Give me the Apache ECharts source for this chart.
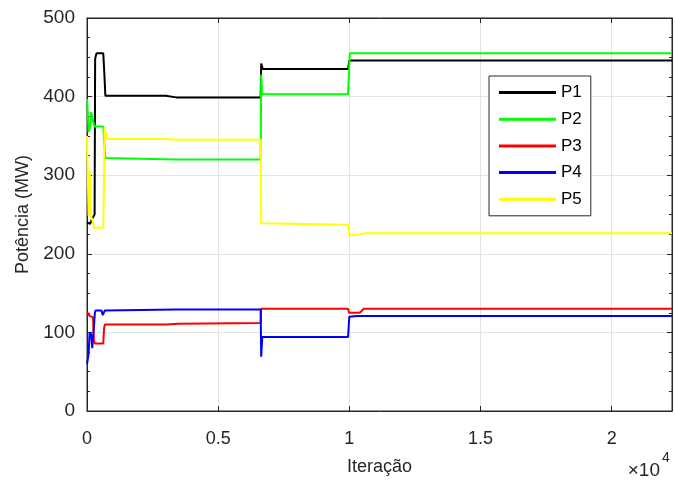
<!DOCTYPE html>
<html>
<head>
<meta charset="utf-8">
<script src="https://cdn.jsdelivr.net/npm/echarts@6/dist/echarts.min.js"></script>
<style>html,body{margin:0;padding:0;background:#fff}#c{width:675px;height:486px}</style>
</head>
<body>
<div id="c"></div>
<script>
// ---- data (iteration, MW) ----
var seriesNames = ['P1', 'P2', 'P3', 'P4', 'P5'];
var p1 = [[0,240],[120,238],[200,245],[290,250],[310,448],[360,455],[620,455],[660,430],[700,401],[3000,401],[3400,399],[6620,399],[6640,442],[6700,435],[9950,435],[10000,446],[22300,446]];
var p2 = [[0,397],[30,380],[60,355],[120,360],[160,380],[230,378],[280,362],[620,362],[660,340],[700,322],[3400,320],[6620,320],[6640,428],[6680,403],[9950,403],[10020,455],[22300,455]];
var p3 = [[0,126],[100,121],[230,119],[260,90],[300,86],[620,86],[650,105],[680,110],[3000,110],[3500,111],[6620,112],[6640,130],[9950,130],[9990,125],[10400,125],[10550,130],[22300,130]];
var p4 = [[0,60],[60,72],[100,100],[160,97],[200,80],[260,105],[300,125],[330,128],[550,128],[600,122],[640,122],[680,128],[3400,129],[6620,129],[6640,69],[6680,94],[9950,94],[10000,120],[10300,121],[22300,121]];
var p5 = [[0,350],[30,300],[60,248],[90,260],[110,305],[140,250],[180,245],[230,240],[270,233],[620,233],[650,300],[670,361],[720,361],[760,346],[3000,346],[3400,345],[6620,345],[6640,239],[6700,237],[9950,237],[10000,224],[10300,224],[10550,226],[22300,226]];
var seriesData = [p1, p2, p3, p4, p5];
var seriesColors = ['#000000', '#00ff00', '#ff0000', '#0000ff', '#ffff00'];
var xTickLabels = ['0', '0.5', '1', '1.5', '2'];
var xMin = 0, xMax = 22300, xStep = 5000;
var yMin = 0, yMax = 500, yStep = 100;

var FONT = '"Liberation Sans", Arial, Helvetica, sans-serif';
var TXT = '#262626';
var chart = echarts.init(document.getElementById('c'), null, {renderer: 'canvas'});

var axisCommon = {
  axisLine: {show: true, onZero: false, lineStyle: {color: TXT, width: 1}},
  axisTick: {show: true, inside: true, length: 5, lineStyle: {color: TXT}},
};

chart.setOption({
  animation: false,
  backgroundColor: '#fff',
  textStyle: {fontFamily: FONT},
  grid: {left: 87, top: 18, right: 3, bottom: 75, show: true, borderColor: TXT, borderWidth: 1, backgroundColor: 'transparent'},
  legend: {
    data: seriesNames,
    orient: 'vertical',
    left: 489, top: 76,
    padding: [8, 9, 8, 10],
    itemWidth: 57, itemHeight: 3, itemGap: 9.7,
    icon: 'rect',
    backgroundColor: '#fff',
    borderColor: TXT, borderWidth: 1,
    textStyle: {fontSize: 17, color: '#000', fontFamily: FONT, lineHeight: 17}
  },
  xAxis: [{
    type: 'value', min: xMin, max: xMax, interval: xStep,
    name: 'Iteração', nameLocation: 'middle', nameGap: 47,
    nameTextStyle: {fontSize: 18, color: TXT, fontFamily: FONT},
    axisLine: axisCommon.axisLine, axisTick: axisCommon.axisTick,
    axisLabel: {fontSize: 18, color: TXT, margin: 19, showMaxLabel: false, fontFamily: FONT,
      formatter: function (v) { var i = Math.round(v / xStep); return xTickLabels[i] !== undefined && v % xStep === 0 ? xTickLabels[i] : ''; }},
    splitLine: {show: true, lineStyle: {color: '#e3e3e3', width: 1}}
  }, {
    type: 'value', position: 'top', min: xMin, max: xMax, interval: xStep,
    axisLine: axisCommon.axisLine, axisTick: axisCommon.axisTick,
    axisLabel: {show: false}, splitLine: {show: false}
  }],
  yAxis: [{
    type: 'value', min: yMin, max: yMax, interval: yStep,
    name: 'Potência (MW)', nameLocation: 'middle', nameGap: 49, nameRotate: 90,
    nameTextStyle: {fontSize: 18, color: TXT, fontFamily: FONT},
    axisLine: axisCommon.axisLine, axisTick: axisCommon.axisTick,
    minorTick: {show: true, splitNumber: 4, length: 3, lineStyle: {color: TXT}},
    axisLabel: {fontSize: 19, color: TXT, margin: 12, fontFamily: FONT},
    splitLine: {show: true, lineStyle: {color: '#e3e3e3', width: 1}}
  }, {
    type: 'value', position: 'right', min: yMin, max: yMax, interval: yStep,
    axisLine: axisCommon.axisLine, axisTick: axisCommon.axisTick,
    minorTick: {show: true, splitNumber: 4, length: 3, lineStyle: {color: TXT}},
    axisLabel: {show: false}, splitLine: {show: false}
  }],
  graphic: [
    {type: 'text', right: 15, top: 461, style: {text: '×10', font: '19px ' + FONT, fill: TXT}},
    {type: 'text', left: 662, top: 451, style: {text: '4', font: '14px ' + FONT, fill: TXT}}
  ],
  series: seriesNames.map(function (n, i) {
    return {
      name: n, type: 'line', data: seriesData[i], showSymbol: false,
      xAxisIndex: 0, yAxisIndex: 0,
      lineStyle: {color: seriesColors[i], width: 2}, itemStyle: {color: seriesColors[i]},
      z: 2 + i
    };
  })
});
</script>
</body>
</html>
